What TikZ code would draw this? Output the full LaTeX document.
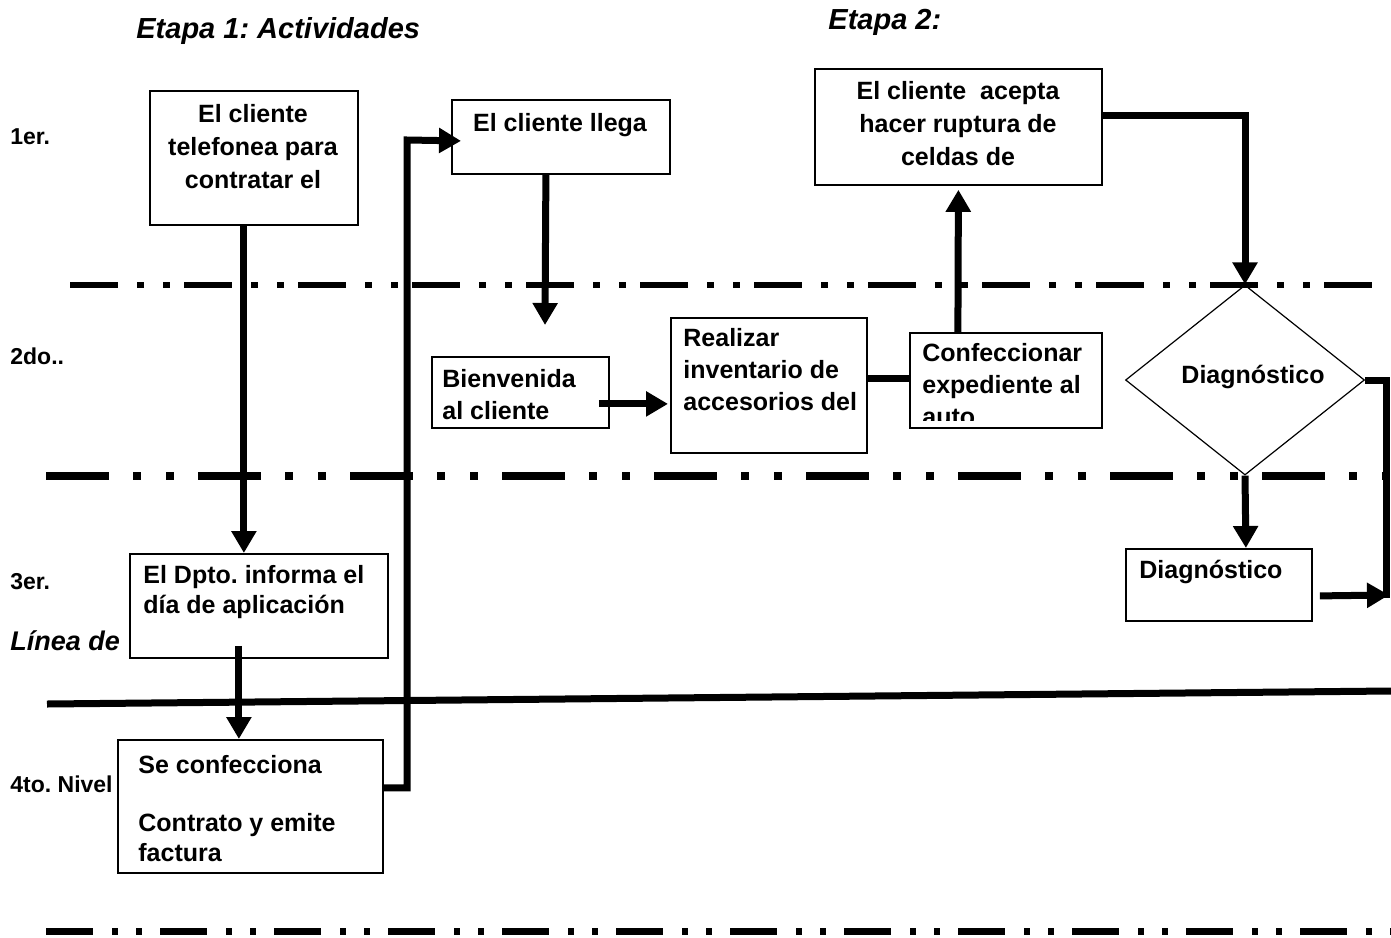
\documentclass[tikz,border=0pt]{standalone}
\usepackage{fontspec}
\setmainfont{Liberation Sans}
\usetikzlibrary{arrows.meta,shapes.geometric,calc}

\newcommand\lvlfont{\bfseries\fontsize{11.5pt}{13pt}\selectfont}
\newcommand\ttlfont{\bfseries\itshape\fontsize{14.5pt}{17pt}\selectfont}

\tikzset{
  box/.style={draw, line width=0.9pt, inner sep=0pt, anchor=north west},
  txt/.style={inner sep=0pt, align=left, anchor=base west,
    font={\bfseries\fontsize{12.5pt}{#1}\selectfont}},
  txt/.default=16pt,
  ctxt/.style={txt=#1, align=center, anchor=base},
  ctxt/.default=16pt,
  lvl/.style={inner sep=0pt, anchor=base west, font=\lvlfont},
  flow/.style={line width=3.5pt, -{Triangle[length=11pt,width=12pt]}},
  link/.style={line width=3.5pt},
}

\begin{document}
\frenchspacing
\begin{tikzpicture}[x=0.5pt,y=-0.5pt]
\useasboundingbox (0,0) rectangle (1391,937);

% titulos y niveles
\node[inner sep=0pt, anchor=base west, font=\ttlfont] (etapa1) at (136,38) {Etapa 1: Actividades};
\node[inner sep=0pt, anchor=base west, font=\ttlfont] (etapa2) at (828,29) {Etapa 2:};
\node[lvl] (niv1) at (10,144) {1er.};
\node[lvl] (niv2) at (10,364) {2do..};
\node[lvl] (niv3) at (10,589) {3er.};
\node[lvl, font=\bfseries\itshape\fontsize{13.5pt}{16pt}\selectfont] (linea) at (10,650) {Línea de};
\node[lvl] (niv4) at (10,792) {4to. Nivel};

% separadores
\draw[line width=3pt, dash pattern=on 24pt off 9.5pt on 3.5pt off 9.5pt on 3.5pt off 7pt] (70,285) -- (1391,285);
\draw[line width=4pt, dash pattern=on 31.5pt off 12pt on 4pt off 12.5pt on 4pt off 12pt] (46,476) -- (1391,476);
\draw[line width=3.5pt] (47,704) -- (1391,691);
\draw[line width=3.5pt, dash pattern=on 23.5pt off 9.5pt on 3pt off 9pt on 3pt off 9pt] (46,931) -- (1391,931);

% cajas (texto anclado en la base de la ultima linea)
\node[box, minimum width=104pt, minimum height=67pt] (tel) at (149,90) {};
\node[ctxt=16.5pt] (telt) at (253,188) {El cliente\\telefonea para\\contratar el};
\node[box, minimum width=109pt, minimum height=37pt] (llega) at (451,99) {};
\node[ctxt] (llegat) at (560,131) {El cliente llega};
\node[box, minimum width=143.5pt, minimum height=58pt] (acepta) at (814,68) {};
\node[ctxt=16.5pt] (aceptat) at (958,165) {El cliente\ \ acepta\\hacer ruptura de\\celdas de};
\node[box, minimum width=88.5pt, minimum height=35.5pt] (bienv) at (431,356) {};
\node[txt] (bienvt) at (442,419) {Bienvenida\\al cliente};
\node[box, minimum width=98pt, minimum height=67.5pt] (invent) at (670,317) {};
\node[txt] (inventt) at (683,410) {Realizar\\inventario de\\accesorios del};
\node[box, minimum width=96pt, minimum height=47.5pt] (exped) at (909,332) {};
\begin{scope}
  \clip (909,332) rectangle (1101,420);
  \node[txt] (expedt) at (922,425) {Confeccionar\\expediente al\\auto};
\end{scope}
\node[diamond, draw, line width=0.6pt, inner sep=0pt, minimum width=119.5pt, minimum height=95pt] (diag) at (1245,380) {};
\node[ctxt] (diagt) at (1253,383) {Diagnóstico};
\node[box, minimum width=129pt, minimum height=52pt] (dpto) at (129,553) {};
\node[txt=15pt] (dptot) at (143,613) {El Dpto. informa el\\día de aplicación};
\node[box, minimum width=93pt, minimum height=36pt] (diagbox) at (1125,548) {};
\node[txt] (diagboxt) at (1139,578) {Diagnóstico};
\node[box, minimum width=132.5pt, minimum height=66.5pt] (conf) at (117,739) {};
\node[txt=14.6pt] (conft) at (138,861) {Se confecciona\\[14.6pt]Contrato y emite\\factura};

% conectores
\coordinate (bend) at (407,140);
\coordinate (drop) at (545,325);
\coordinate (retorno) at (1386,598);
\coordinate (entrada) at (1389,595);

\draw[flow] ($(tel.south)+(-10,0)$) -- ($(dpto.north)+(-15,0)$);
\draw[flow] ($(dpto.south)+(-20,-13)$) -- ($(conf.north)+(-11.5,0)$);
\draw[flow] ($(conf.east)+(0,-18.5)$) -| (bend) -- ($(llega.west)+(10,4)$);
\draw[flow] ($(llega.south)+(-15,0)$) -- (drop);
\draw[flow] ($(bienv.east)+(-11,11.5)$) -- ($(invent.west)+(-2,18.5)$);
\draw[link] ($(invent.east)+(0,-6.5)$) -- ($(exped.west)+(0,-1.5)$);
\draw[flow] ($(exped.north)+(-48,0)$) -- ($(acepta.south)+(0,4)$);
\draw[flow] ($(acepta.east)+(0,-11)$) -| (diag.north);
\draw[flow] (diag.south) -- ($(diagbox.north)+(27,0)$);
\draw[link] (diag.east) -| (retorno);
\draw[flow] ($(diagbox.east)+(7,11)$) -- (entrada);
\end{tikzpicture}
\end{document}
